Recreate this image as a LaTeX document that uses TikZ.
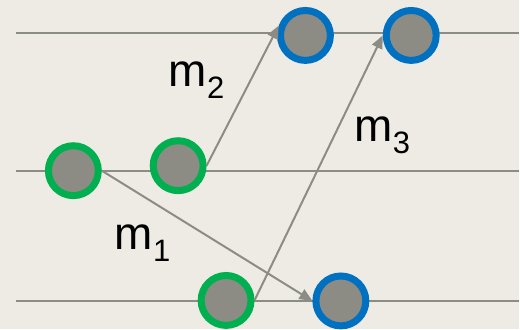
\documentclass[tikz,border=0pt]{standalone}
\usepackage{fontspec}
\setmainfont{Liberation Sans}
\usetikzlibrary{arrows.meta}
\definecolor{bgbeige}{RGB}{238,235,228}
\definecolor{dotgray}{RGB}{140,140,132}
\definecolor{linegray}{RGB}{140,140,134}
\definecolor{sendgreen}{RGB}{0,176,80}
\definecolor{recvblue}{RGB}{0,112,192}
\newcommand{\lowidx}[1]{\raisebox{-12pt}{\fontsize{31}{31}\selectfont #1}}

\begin{document}
\begin{tikzpicture}[x=1pt, y=-1pt, sender/.style={circle, draw=sendgreen, fill=dotgray, line width=7pt, minimum size=50pt, inner sep=0pt}, receiver/.style={sender, draw=recvblue}, lane/.style={draw=linegray, line width=2pt}, arrow/.style={-{Triangle[length=13pt, width=11pt]}, draw=linegray, fill=linegray, line width=2pt}, lbl/.style={anchor=base west, inner sep=0pt, font=\fontsize{46}{46}\selectfont}]
      \fill[bgbeige] (0,0) rectangle (520,330);
      % lanes
      \draw[lane] (16,33) -- (520,33); \draw[lane] (16,171) -- (520,171);
      \draw[lane] (16,302) -- (520,302);

      \node[sender] (a) at (73.5,171) {}; \node[sender] (b) at (178.5,166) {};
      \node[sender] (c) at (226.5,301) {}; \node[receiver] (d) at (341.5,301.5) {};
      \node[receiver] (e) at (306,35.5) {}; \node[receiver] (f) at (412,35.5) {};

      \draw[arrow] (a.east) -- (d.west); \draw[arrow] (b.east) -- (e.160);
      \draw[arrow] (c.east) -- (f.west);

      \node[lbl] (m1) at (115,250) {m\lowidx{1}};
      \node[lbl] (m2) at (169,87) {m\lowidx{2}};
      \node[lbl] (m3) at (355,142) {m\lowidx{3}};
    \end{tikzpicture}
\end{document}
